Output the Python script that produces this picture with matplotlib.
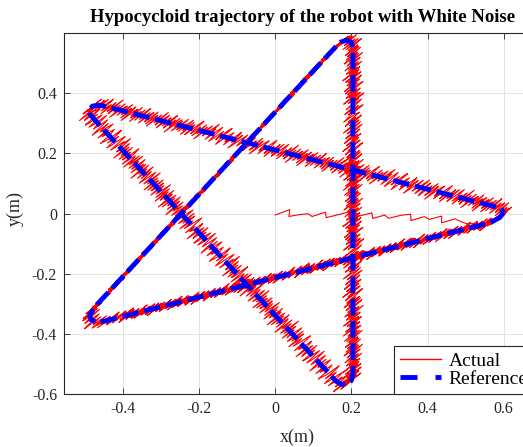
import numpy as np
import matplotlib.pyplot as plt
from matplotlib.lines import Line2D

plt.rcParams['font.family'] = 'Liberation Serif'

# reference hypocycloid (m), closed loop starting at the right cusp
ref_x = [0.600, 0.590, 0.566, 0.300, 0.000, -0.300, -0.440, -0.468, -0.485, -0.487,
         -0.470, -0.200, 0.100, 0.158, 0.172, 0.188, 0.200, 0.204, 0.204, 0.204,
         0.200, 0.190, 0.175, 0.160, -0.100, -0.400, -0.470, -0.487, -0.490, -0.480,
         -0.460, -0.440, 0.000, 0.300, 0.540, 0.574, 0.592, 0.600]
ref_y = [0.003, -0.013, -0.030, -0.116, -0.213, -0.310, -0.355, -0.363, -0.352, -0.335,
         -0.305, 0.064, 0.474, 0.553, 0.570, 0.576, 0.568, 0.550, 0.000, -0.530,
         -0.555, -0.566, -0.568, -0.558, -0.202, 0.209, 0.305, 0.330, 0.345, 0.357,
         0.360, 0.354, 0.211, 0.113, 0.035, 0.024, 0.018, 0.003]

# robot leaves the origin and merges onto the lower edge
start_x = [0.00, 0.15, 0.30, 0.45, 0.52]
start_y = [-0.005, -0.008, -0.014, -0.030, -0.045]

# white noise (mm) added equally to x and y
start_noise_mm = [0, 18, -4, 2, 6, -3, 12, -6, 4, 15, -5, 3, 14, -4, 8, -2, 10, 16,
                  -3, 12, 5, 18, -2, 14, 9, 6, 11]
noise_mm = [5, 14, -3, -17, 8, 22, 11, -9, -20, -4, 13, 2, -12, 18, 25, -6, -15, -23,
            4, 9, 16, -1, -11, 7, -19, 3, 21, 12, -8, -2, 15, -24, -10, 6, 19, 1, -14,
            -5, 10, 23, -7, -18, 0, 17, 8, -13, -21, 11, 4, -3, 20, -16, -9, 14, 6, -25,
            2, 12, 18, -6, -12, 3, -19, 9, 24, 13, -4, -15, 7, -1, -22, 16, 5, -10, 19,
            -7, -17, 1, 22, 10, -13, -2, 8, -20, 15, 4, -11, 26, -5, -16, 12, 2, -8, 18,
            -23, -3, 9, 14, -14, 6, 21, -9, -1, 11, -18, 17, 3, -24, 7, 13, -6, 20, -12,
            -4, 10, -21, 16, 1, -15, 23, 5, -10, -2, 12, -19, 8, 15, -7, -13, 19, 0, -17,
            11, 6, -22, 14, 2, -9, 24, -5, -14, 9, 18, -3, -20, 4, 13, -11, 7, 22, -16,
            -1, 10, -8, 17, -25, 3, 15, -6, 12, -18, 5, 20, -12, -4, 8, -15, 21, 1, -10,
            16, -21, 6, 11, -2, -19, 14, 25, -7, -13, 9, 3, -17, 18, -9, 2, 13, -23, 7,
            19, -5, -11, 10, 27]


def resample(xs, ys, step):
    xs = np.asarray(xs, float)
    ys = np.asarray(ys, float)
    s = np.concatenate([[0], np.cumsum(np.hypot(np.diff(xs), np.diff(ys)))])
    t = np.arange(0, s[-1], step)
    return np.interp(t, s, xs), np.interp(t, s, ys)


# approach segment
sx, sy = resample(start_x, start_y, 0.02)
sn = np.array(start_noise_mm[:len(sx)]) * 1e-3
sx, sy = sx + sn, sy + sn

# tracking loop, picked up where the approach joins the reference
loop_x = [start_x[-1]] + ref_x[3:] + ref_x[1:3] + [start_x[-1]]
loop_y = [start_y[-1]] + ref_y[3:] + ref_y[1:3] + [start_y[-1]]
lx, ly = resample(loop_x, loop_y, 0.0025)
ln = np.resize(np.array(noise_mm), len(lx)) * 1.05e-3
lx, ly = lx + ln, ly + ln

act_x = np.concatenate([sx, lx])
act_y = np.concatenate([sy, ly])

W, H = 523, 447
fig = plt.figure(figsize=(W / 100, H / 100), dpi=100)
left, right, bottom, top = 64, 536, 394, 33
ax = fig.add_axes([left / W, 1 - bottom / H, (right - left) / W, (bottom - top) / H])

ax.plot(act_x, act_y, color='r', lw=0.8)
ax.plot(ref_x, ref_y, color='b', lw=3.5, dashes=(3.4, 1.2))

ax.set_xlim(-0.555, 0.685)
ax.set_ylim(-0.6, 0.6)
ax.set_xticks([-0.4, -0.2, 0, 0.2, 0.4, 0.6])
ax.set_xticklabels(['-0.4', '-0.2', '0', '0.2', '0.4', '0.6'])
ax.set_yticks([-0.6, -0.4, -0.2, 0, 0.2, 0.4])
ax.set_yticklabels(['-0.6', '-0.4', '-0.2', '0', '0.2', '0.4'])
ax.tick_params(direction='in', length=4, width=0.6, labelsize=11.5, colors='#262626',
               top=True, right=True, pad=5)
ax.grid(True, color='#e3e3e3', lw=0.7)
ax.set_axisbelow(True)
for sp in ax.spines.values():
    sp.set_color('#262626')
    sp.set_linewidth(0.8)

fig.text(303 / W, 1 - 18 / H, 'Hypocycloid trajectory of the robot with White Noise',
         ha='center', va='center', fontsize=13.5, fontweight='bold')
fig.text(297 / W, 1 - 437 / H, 'x(m)', ha='center', va='center', fontsize=13,
         color='#262626')
fig.text(15 / W, 1 - 209 / H, 'y(m)', ha='center', va='center', fontsize=13,
         color='#262626', rotation=90)

handles = [Line2D([], [], color='r', lw=1.0),
           Line2D([], [], color='b', lw=3.5, dashes=(3.5, 3.7))]
leg = ax.legend(handles, ['Actual', 'Reference'], loc='lower left',
                bbox_to_anchor=((394 - left) / (right - left), 0), borderaxespad=0,
                fontsize=14, handlelength=2.1, handletextpad=0.4, labelspacing=0.05,
                borderpad=0.3, fancybox=False, framealpha=1, edgecolor='#262626')
leg.get_frame().set_linewidth(0.8)

fig.savefig('out.png', dpi=100)
